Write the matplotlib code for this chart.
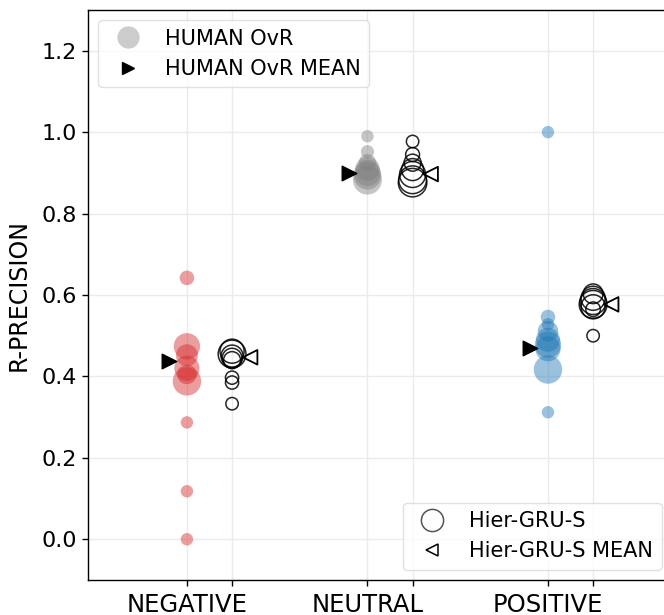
import matplotlib
matplotlib.use("Agg")
import matplotlib.pyplot as plt
from matplotlib.lines import Line2D

# Classes and per-class scores
categories = ["NEGATIVE", "NEUTRAL", "POSITIVE"]
class_colors = ["tab:red", "gray", "tab:blue"]

# Human one-vs-rest R-precision (value, marker size ~ support)
human_vals = [
    [0.642, 0.474, 0.452, 0.42, 0.405, 0.388, 0.287, 0.118, 0.0],
    [0.99, 0.952, 0.925, 0.91, 0.90, 0.893, 0.882],
    [1.0, 0.546, 0.528, 0.511, 0.49, 0.478, 0.468, 0.417, 0.312],
]
human_sizes = [
    [110, 360, 250, 330, 200, 420, 80, 80, 80],
    [80, 90, 160, 300, 360, 400, 430],
    [80, 110, 80, 220, 300, 360, 330, 420, 80],
]
human_means = [0.437, 0.900, 0.470]

# Hier-GRU-S R-precision
model_vals = [
    [0.462, 0.455, 0.45, 0.445, 0.44, 0.397, 0.385, 0.333],
    [0.977, 0.945, 0.925, 0.908, 0.896, 0.883, 0.876],
    [0.603, 0.592, 0.584, 0.577, 0.571, 0.565, 0.5],
]
model_sizes = [
    [300, 400, 250, 200, 150, 90, 90, 80],
    [80, 100, 150, 250, 350, 400, 420],
    [200, 300, 350, 400, 300, 110, 80],
]
model_means = [0.447, 0.897, 0.577]

model_offset = 0.25
mean_offset = 0.1

plt.rcParams["font.family"] = "DejaVu Sans"
fig = plt.figure(figsize=(6.64, 6.15), dpi=100)
ax = fig.add_axes([88 / 664, 35 / 615, 584 / 664, 570 / 615])

for i, cat in enumerate(categories):
    xh = [i] * len(human_vals[i])
    ax.scatter(xh, human_vals[i], s=human_sizes[i], color=class_colors[i],
               alpha=0.45, linewidths=0, zorder=3)
    ax.scatter([i - mean_offset], [human_means[i]], marker=">", s=110,
               color="black", zorder=4)
    xm = [i + model_offset] * len(model_vals[i])
    ax.scatter(xm, model_vals[i], s=model_sizes[i], facecolors="none",
               edgecolors="black", linewidths=1.1, alpha=0.85, zorder=3)
    ax.scatter([i + model_offset + mean_offset], [model_means[i]], marker="<",
               s=110, facecolors="none", edgecolors="black", linewidths=1.3,
               zorder=4)

xticks = []
xlabels = []
for i, cat in enumerate(categories):
    xticks += [i, i + model_offset]
    xlabels += [cat, ""]
ax.set_xticks(xticks)
ax.set_xticklabels(xlabels, fontsize=17.5)
ax.set_xlim(-0.548, 2.687)
ax.set_ylim(-0.1, 1.3)
ax.set_yticks([0.0, 0.2, 0.4, 0.6, 0.8, 1.0, 1.2])
ax.set_yticklabels(["0.0", "0.2", "0.4", "0.6", "0.8", "1.0", "1.2"], fontsize=16)
ax.set_ylabel("R-PRECISION", fontsize=17, labelpad=8)

ax.grid(True, color="#ebebeb", linewidth=1.0, zorder=0)
ax.set_axisbelow(True)
for side in ["left", "bottom", "top", "right"]:
    ax.spines[side].set_color("black")
    ax.spines[side].set_linewidth(1.0)
ax.tick_params(direction="out", length=4.5, width=1, color="black")
ax.tick_params(axis="x", pad=4.5)

human_handles = [
    Line2D([], [], marker="o", linestyle="none", markersize=16,
           markerfacecolor="gray", markeredgewidth=0, alpha=0.4,
           label="HUMAN OvR"),
    Line2D([], [], marker=">", linestyle="none", markersize=9,
           color="black", label="HUMAN OvR MEAN"),
]
leg1 = ax.legend(handles=human_handles, loc="upper left", fontsize=15,
                 frameon=True, fancybox=True, edgecolor="#d9d9d9")
ax.add_artist(leg1)

model_handles = [
    Line2D([], [], marker="o", linestyle="none", markersize=16,
           markerfacecolor="none", markeredgecolor="#555555",
           markeredgewidth=1.1, label="Hier-GRU-S"),
    Line2D([], [], marker="<", linestyle="none", markersize=9,
           markerfacecolor="none", markeredgecolor="black",
           markeredgewidth=1.1, label="Hier-GRU-S MEAN"),
]
ax.legend(handles=model_handles, loc="lower right", fontsize=15,
          frameon=True, fancybox=True, edgecolor="#d9d9d9")

fig.savefig("out.png", dpi=100)
